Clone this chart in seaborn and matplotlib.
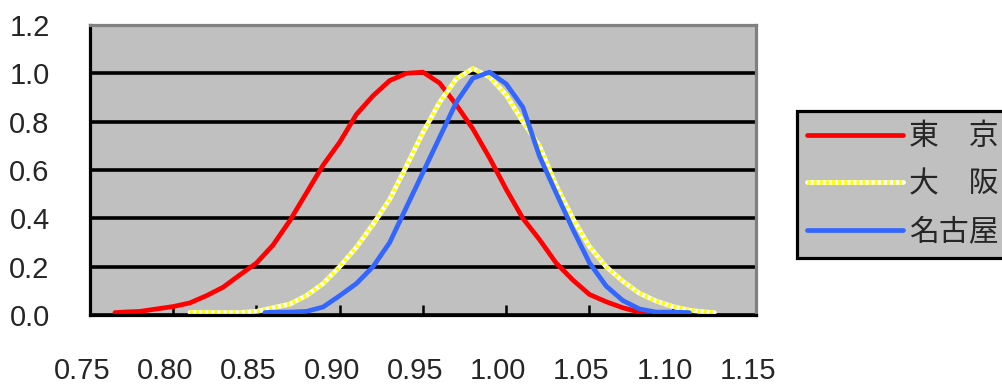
import matplotlib
matplotlib.use("Agg")
import matplotlib.pyplot as plt
import seaborn as sns
from matplotlib import font_manager
from matplotlib.transforms import ScaledTranslation
from matplotlib.legend_handler import HandlerTuple

# ---- data ----
tokyo_x = [0.765, 0.77, 0.78, 0.79, 0.80, 0.81, 0.82, 0.83, 0.84, 0.85, 0.86, 0.87, 0.88,
           0.89, 0.90, 0.91, 0.92, 0.93, 0.94, 0.95, 0.96, 0.97, 0.98, 0.99, 1.00, 1.01,
           1.02, 1.03, 1.04, 1.05, 1.06, 1.07, 1.08, 1.085]
tokyo_y = [0.010, 0.012, 0.015, 0.025, 0.035, 0.050, 0.080, 0.115, 0.166, 0.215, 0.290, 0.390, 0.505,
           0.620, 0.715, 0.830, 0.907, 0.970, 1.000, 1.005, 0.960, 0.870, 0.770, 0.650, 0.520, 0.400,
           0.312, 0.215, 0.145, 0.085, 0.055, 0.030, 0.012, 0.010]

osaka_x = [0.81, 0.82, 0.83, 0.84, 0.85, 0.86, 0.87, 0.88, 0.89, 0.90, 0.91, 0.92, 0.93,
           0.94, 0.95, 0.96, 0.97, 0.98, 0.99, 1.00, 1.01, 1.02, 1.03, 1.04, 1.05, 1.06,
           1.07, 1.08, 1.09, 1.10, 1.11, 1.12, 1.125]
osaka_y = [0.010, 0.010, 0.010, 0.010, 0.015, 0.030, 0.045, 0.080, 0.130, 0.200, 0.280, 0.375, 0.478,
           0.615, 0.755, 0.880, 0.977, 1.020, 0.985, 0.910, 0.800, 0.700, 0.535, 0.400, 0.283, 0.200,
           0.140, 0.090, 0.058, 0.035, 0.020, 0.012, 0.010]

nagoya_x = [0.855, 0.86, 0.87, 0.88, 0.89, 0.90, 0.91, 0.92, 0.93, 0.94, 0.95, 0.96, 0.97,
            0.98, 0.99, 1.00, 1.01, 1.02, 1.03, 1.04, 1.05, 1.06, 1.07, 1.08, 1.09, 1.10, 1.11]
nagoya_y = [0.010, 0.012, 0.012, 0.015, 0.033, 0.080, 0.130, 0.200, 0.300, 0.445, 0.590, 0.735, 0.880,
            0.980, 1.005, 0.956, 0.860, 0.657, 0.505, 0.355, 0.216, 0.120, 0.060, 0.025, 0.012, 0.012, 0.010]

series_labels = ["東\u3000京", "大\u3000阪", "名古屋"]
x_ticks = [0.75, 0.80, 0.85, 0.90, 0.95, 1.00, 1.05, 1.10, 1.15]
x_tick_labels = ["0.75", "0.80", "0.85", "0.90", "0.95", "1.00", "1.05", "1.10", "1.15"]
y_ticks = [0.0, 0.2, 0.4, 0.6, 0.8, 1.0, 1.2]
y_tick_labels = ["0.0", "0.2", "0.4", "0.6", "0.8", "1.0", "1.2"]

# ---- style ----
sns.set_style("white")
installed = {f.name for f in font_manager.fontManager.ttflist}
narrow = [n for n in ['Liberation Sans Narrow', 'DejaVu Sans Condensed'] if n in installed]
num_family = narrow[0] if narrow else 'Liberation Sans'
plt.rcParams['font.family'] = [num_family, 'Noto Sans CJK JP', 'DejaVu Sans']
plt.rcParams['lines.scale_dashes'] = False

fig = plt.figure(figsize=(10.03, 3.85), dpi=100)
ax = fig.add_axes([0.0897, 0.1818, 0.6640, 0.7532])
ax.set_facecolor('#c0c0c0')

LW = 3.4
sns.lineplot(x=tokyo_x, y=tokyo_y, color='#ff0000', linewidth=LW, ax=ax, legend=False)
sns.lineplot(x=osaka_x, y=osaka_y, color='#ffffff', linewidth=LW, ax=ax, legend=False)
sns.lineplot(x=osaka_x, y=osaka_y, color='#ffff00', linewidth=LW, ax=ax, legend=False,
             linestyle=(0, (2.2, 2.2)))
sns.lineplot(x=nagoya_x, y=nagoya_y, color='#3366ff', linewidth=LW, ax=ax, legend=False)

l_red, l_white, l_yel, l_blue = ax.lines[:4]

ax.set_xlim(0.75, 1.15)
ax.set_ylim(0.0, 1.2)
ax.set_xticks(x_ticks)
ax.set_xticklabels(x_tick_labels)
ax.set_yticks(y_ticks)
ax.set_yticklabels(y_tick_labels)
ax.set_xlabel("")
ax.set_ylabel("")

ax.tick_params(axis='x', direction='in', length=7, width=1.8, color='black',
               pad=30, labelsize=21, bottom=True)
ax.tick_params(axis='y', length=0, pad=29, labelsize=21, left=True)
for lbl in ax.get_xticklabels():
    lbl.set_transform(lbl.get_transform() + ScaledTranslation(-8 / 100, 0, fig.dpi_scale_trans))
    lbl.set_verticalalignment('top')

ax.set_axisbelow(True)
ax.yaxis.grid(True, color='black', linewidth=2.6)
ax.xaxis.grid(False)

for s in ['left', 'bottom']:
    ax.spines[s].set_color('black')
    ax.spines[s].set_linewidth(2.3)
for s in ['top', 'right']:
    ax.spines[s].set_color('#808080')
    ax.spines[s].set_linewidth(2.3)
    ax.spines[s].set_visible(True)

leg = ax.legend(handles=[l_red, (l_white, l_yel), l_blue], labels=series_labels,
                loc='upper left', bbox_to_anchor=(0.7946, 0.7117),
                bbox_transform=fig.transFigure, borderaxespad=0,
                fontsize=21.5, handlelength=3.2, handletextpad=0.2,
                borderpad=0.35, labelspacing=0.55, frameon=True, fancybox=False,
                facecolor='#c0c0c0', edgecolor='black', framealpha=1,
                handler_map={tuple: HandlerTuple(ndivide=1)},
                prop={'family': ['Noto Sans CJK JP', 'DejaVu Sans'], 'size': 21.5})
leg.get_frame().set_linewidth(2.3)

fig.savefig('out.png', dpi=100)
